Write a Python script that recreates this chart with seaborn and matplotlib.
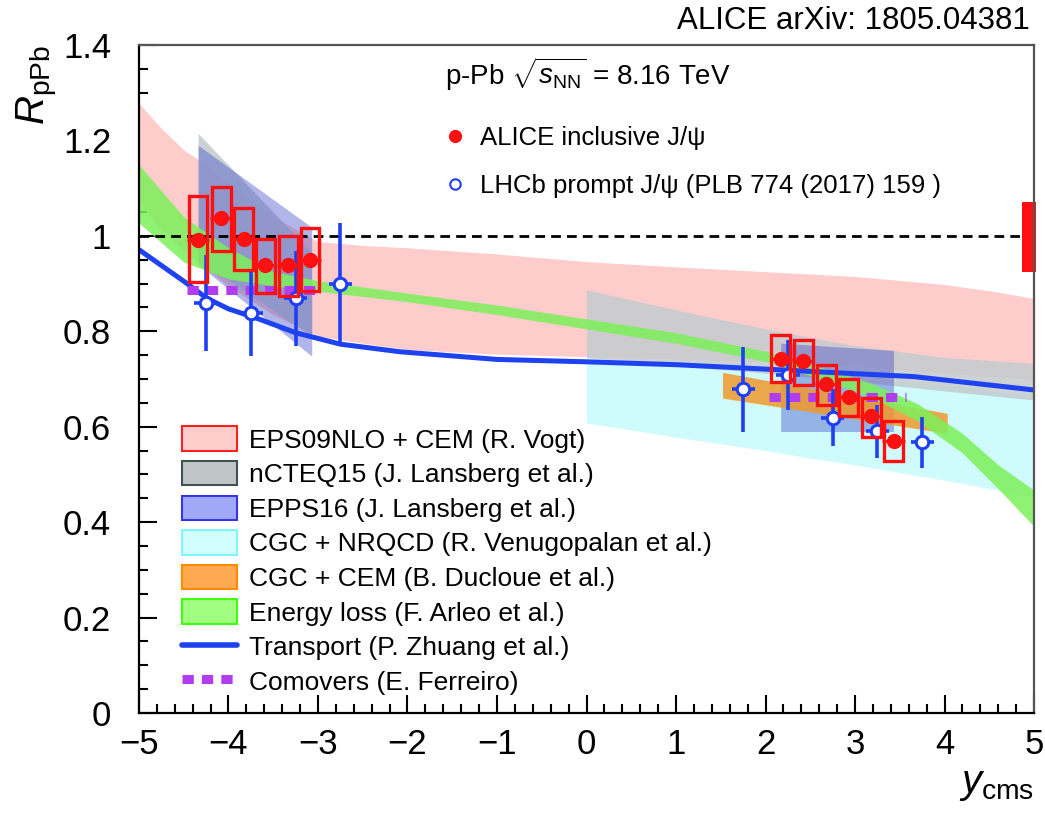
import numpy as np
import pandas as pd
import matplotlib
matplotlib.use("Agg")
import matplotlib.pyplot as plt
from matplotlib.lines import Line2D
from matplotlib.patches import Patch
from matplotlib.ticker import MultipleLocator, FuncFormatter
import seaborn as sns

# ---------------- data ----------------
# ALICE inclusive J/psi
alice_y = [-4.34, -4.08, -3.83, -3.59, -3.33, -3.09, 2.17, 2.42, 2.68, 2.93, 3.18, 3.43]
alice_R = [0.992, 1.037, 0.993, 0.939, 0.939, 0.950, 0.741, 0.737, 0.690, 0.662, 0.622, 0.570]
alice_stat = [0.012, 0.012, 0.011, 0.011, 0.011, 0.012, 0.008, 0.008, 0.008, 0.008, 0.008, 0.009]
alice_syst_lo = [0.904, 0.969, 0.929, 0.880, 0.874, 0.885, 0.693, 0.688, 0.646, 0.623, 0.579, 0.528]
alice_syst_hi = [1.084, 1.102, 1.058, 0.993, 0.999, 1.016, 0.792, 0.781, 0.729, 0.701, 0.660, 0.611]
alice_bin_half = 0.125
global_unc_lo, global_unc_hi = 0.925, 1.070

# LHCb prompt J/psi
lhcb_y = [-4.25, -3.75, -3.25, -2.75, 1.75, 2.25, 2.75, 3.25, 3.75]
lhcb_R = [0.859, 0.838, 0.869, 0.899, 0.678, 0.709, 0.619, 0.590, 0.567]
lhcb_err = [0.100, 0.090, 0.100, 0.128, 0.090, 0.073, 0.060, 0.056, 0.053]
lhcb_bin_half = 0.13

# EPS09NLO + CEM
eps09_x = [-5.0, -4.75, -4.5, -4.34, -4.0, -3.5, -3.0, -2.5, -2.0, -1.0, 0.0, 1.0, 2.0, 3.0, 4.0, 4.5, 5.0]
eps09_hi = [1.278, 1.225, 1.180, 1.160, 1.110, 1.040, 0.988, 0.980, 0.975, 0.962, 0.946, 0.935, 0.925, 0.915, 0.898, 0.885, 0.869]
eps09_lo = [1.068, 1.015, 0.970, 0.945, 0.895, 0.835, 0.790, 0.775, 0.762, 0.752, 0.747, 0.742, 0.737, 0.727, 0.712, 0.705, 0.700]

# nCTEQ15
ncteq_b_x = [-4.34, -3.07]
ncteq_b_hi = [1.215, 0.965]
ncteq_b_lo = [0.950, 0.790]
ncteq_f_x = [0.0, 1.0, 2.0, 3.0, 4.0, 5.0]
ncteq_f_hi = [0.887, 0.845, 0.805, 0.770, 0.745, 0.733]
ncteq_f_lo = [0.745, 0.728, 0.712, 0.695, 0.675, 0.656]

# EPPS16
epps_b_x = [-4.34, -3.07]
epps_b_hi = [1.190, 1.018]
epps_b_lo = [0.940, 0.748]
epps_f_x = [2.17, 3.43]
epps_f_hi = [0.775, 0.760]
epps_f_lo = [0.590, 0.590]

# CGC + NRQCD
cgcnr_x = [0.0, 1.0, 2.0, 2.5, 3.0, 4.0, 4.4, 5.0]
cgcnr_hi = [0.745, 0.730, 0.716, 0.708, 0.700, 0.688, 0.680, 0.660]
cgcnr_lo = [0.608, 0.578, 0.550, 0.534, 0.520, 0.488, 0.474, 0.453]

# CGC + CEM
cgccem_x = [1.52, 4.03]
cgccem_hi = [0.714, 0.628]
cgccem_lo = [0.660, 0.586]

# Energy loss
eloss_x = [-5.0, -4.5, -4.0, -3.5, -3.0, -2.0, -1.0, 0.0, 1.0, 2.0, 2.7, 3.2, 3.7, 4.2, 4.6, 5.0]
eloss_hi = [1.149, 1.040, 0.975, 0.925, 0.906, 0.880, 0.855, 0.826, 0.797, 0.758, 0.720, 0.690, 0.648, 0.586, 0.520, 0.467]
eloss_lo = [1.027, 0.945, 0.910, 0.895, 0.884, 0.862, 0.835, 0.805, 0.775, 0.737, 0.695, 0.660, 0.612, 0.545, 0.470, 0.391]

# Transport
trans_x = [-5.0, -4.5, -4.24, -4.0, -3.65, -3.25, -2.75, -2.08, -1.0, 0.0, 1.0, 1.76, 2.7, 3.66, 5.0]
trans_R = [0.971, 0.905, 0.869, 0.847, 0.825, 0.797, 0.773, 0.757, 0.741, 0.736, 0.730, 0.723, 0.714, 0.705, 0.677]

# Comovers
com_b_x = [-4.46, -2.96]
com_b_R = [0.887, 0.887]
com_f_x = [2.04, 3.57]
com_f_R = [0.662, 0.662]

model_labels = ["EPS09NLO + CEM (R. Vogt)", "nCTEQ15 (J. Lansberg et al.)",
                "EPPS16 (J. Lansberg et al.)", "CGC + NRQCD (R. Venugopalan et al.)",
                "CGC + CEM (B. Ducloue et al.)", "Energy loss (F. Arleo et al.)",
                "Transport (P. Zhuang et al.)", "Comovers (E. Ferreiro)"]
data_labels = ["ALICE inclusive J/\u03c8", "LHCb prompt J/\u03c8 (PLB 774 (2017) 159 )"]

# ---------------- style ----------------
sns.set_theme(style="ticks")
plt.rcParams["font.family"] = ["Liberation Sans", "DejaVu Sans"]
plt.rcParams["mathtext.fontset"] = "custom"
plt.rcParams["mathtext.rm"] = "Liberation Sans"
plt.rcParams["mathtext.it"] = "Liberation Sans:italic"
plt.rcParams["mathtext.bf"] = "Liberation Sans:bold"
plt.rcParams["text.color"] = "black"
plt.rcParams["axes.labelcolor"] = "black"
plt.rcParams["xtick.color"] = "black"
plt.rcParams["ytick.color"] = "black"

fig = plt.figure(figsize=(10.45, 8.14), dpi=100)
ax = fig.add_axes([0.1330, 0.1241, 0.8565, 0.8206])

c_pink = "#ffcccc"
c_grey = "#c4cbcf"
c_epps = "#3c48c8"
c_cyan = "#cdfbfd"
c_orange = "#f0982c"
c_green = "#7cf05a"
c_trans = "#1e42f0"
c_com = "#b23cf0"
c_lhcb = "#1f3ff5"

ax.fill_between(eps09_x, eps09_lo, eps09_hi, color=c_pink, lw=0, zorder=1)
ax.fill_between(cgcnr_x, cgcnr_lo, cgcnr_hi, color=c_cyan, lw=0, alpha=0.95, zorder=2)
ax.fill_between(ncteq_b_x, ncteq_b_lo, ncteq_b_hi, color=c_grey, lw=0, alpha=0.88, zorder=3)
ax.fill_between(ncteq_f_x, ncteq_f_lo, ncteq_f_hi, color=c_grey, lw=0, alpha=0.85, zorder=3)
ax.fill_between(epps_b_x, epps_b_lo, epps_b_hi, color=c_epps, lw=0, alpha=0.40, zorder=4)
ax.fill_between(epps_f_x, epps_f_lo, epps_f_hi, color=c_epps, lw=0, alpha=0.40, zorder=4)
ax.fill_between(cgccem_x, cgccem_lo, cgccem_hi, color=c_orange, lw=0, alpha=0.85, zorder=5)
ax.fill_between(eloss_x, eloss_lo, eloss_hi, color=c_green, lw=0, alpha=0.85, zorder=6)

sns.lineplot(x=trans_x, y=trans_R, ax=ax, color=c_trans, lw=3.6, sort=False,
             estimator=None, zorder=7)
for cx, cy in [(com_b_x, com_b_R), (com_f_x, com_f_R)]:
    sns.lineplot(x=cx, y=cy, ax=ax, color=c_com, lw=6.5, sort=False, estimator=None,
                 dashes=False, zorder=8).lines[-1].set_dashes((1.25, 0.9))

ax.axhline(1.0, color="black", lw=2.0, dashes=(3.5, 2.2), zorder=8.5)

# LHCb points
ax.errorbar(lhcb_y, lhcb_R, xerr=lhcb_bin_half, yerr=lhcb_err, fmt="o", ms=9,
            mfc="white", mec=c_lhcb, mew=2.2, ecolor=c_lhcb, elinewidth=2.6,
            capsize=0, zorder=9)

# ALICE systematic boxes
syst_h = np.array(alice_syst_hi) - np.array(alice_syst_lo)
ax.bar(alice_y, syst_h, bottom=alice_syst_lo, width=0.21, fill=False,
       edgecolor="#ff1010", linewidth=2.4, zorder=10)
ax.errorbar(alice_y, alice_R, xerr=alice_bin_half, yerr=alice_stat, fmt="o", ms=10,
            color="#ff1010", elinewidth=2.0, capsize=0, zorder=11)
# global uncertainty
ax.bar([4.945], [global_unc_hi - global_unc_lo], bottom=global_unc_lo, width=0.15,
       color="#ff1010", lw=0, clip_on=False, zorder=12)

ax.set_xlim(-5, 5)
ax.set_ylim(0, 1.4)
ax.xaxis.set_major_locator(MultipleLocator(1))
ax.xaxis.set_minor_locator(MultipleLocator(0.2))
ax.yaxis.set_major_locator(MultipleLocator(0.2))
ax.yaxis.set_minor_locator(MultipleLocator(0.05))
fmt = FuncFormatter(lambda v, p: f"{v:g}".replace("-", "\u2212"))
ax.xaxis.set_major_formatter(fmt)
ax.yaxis.set_major_formatter(fmt)
ax.tick_params(which="both", direction="in", top=False, right=False, width=1.5,
               colors="black", labelsize=25)
ax.tick_params(which="major", length=13)
ax.tick_params(which="minor", length=6.5)
ax.tick_params(axis="y", which="major", pad=20)
ax.tick_params(axis="x", which="major", pad=11)
for s in ax.spines.values():
    s.set_linewidth(1.6)
    s.set_color("black")
    s.set_zorder(20)
ax.spines["top"].set_color("#555555")
ax.spines["right"].set_color("#555555")

ax.set_xlabel(r"$y_{\rm cms}$", loc="right", fontsize=29, labelpad=3, color="black")
ax.set_ylabel(r"$R_{\rm pPb}$", loc="top", fontsize=29, labelpad=3, color="black")

# model legend
model_handles = [
    Patch(facecolor="#ffcccc", edgecolor="#ff2020", lw=1.5),
    Patch(facecolor="#bfc5c5", edgecolor="#405252", lw=1.5),
    Patch(facecolor="#a0a8f8", edgecolor="#3535f0", lw=1.5),
    Patch(facecolor="#d2feff", edgecolor="#80f4ff", lw=1.5),
    Patch(facecolor="#ffaa50", edgecolor="#ff8a00", lw=1.5),
    Patch(facecolor="#a0ff80", edgecolor="#40ff10", lw=1.5),
    Line2D([], [], color=c_trans, lw=4),
    Line2D([], [], color=c_com, lw=6.5, dashes=(1.25, 0.9)),
]
leg1 = ax.legend(model_handles, model_labels, loc="upper left",
                 bbox_to_anchor=(0.048, 0.429), frameon=False, fontsize=19,
                 handlelength=2.1, handleheight=1.05, handletextpad=0.45,
                 labelspacing=0.316, borderpad=0, borderaxespad=0,
                 labelcolor="black")
leg1.set_zorder(30)
ax.add_artist(leg1)

data_handles = [
    Line2D([], [], marker="o", ls="none", color="#ff1010", ms=8.5),
    Line2D([], [], marker="o", ls="none", mfc="white", mec=c_lhcb, mew=1.5, ms=7.5),
]
leg2 = ax.legend(data_handles, data_labels, loc="upper left",
                 bbox_to_anchor=(0.339, 0.8785), frameon=False, fontsize=18.5,
                 handlelength=1.0, handletextpad=0.47, labelspacing=0.913,
                 borderpad=0, borderaxespad=0, labelcolor="black")
leg2.set_zorder(30)

fig.text(0.426, 0.908, r"p-Pb $\sqrt{s_{\rm NN}}$ = 8.16 TeV", fontsize=20,
         ha="left", va="center", color="black")
fig.text(0.9856, 0.974, "ALICE arXiv: 1805.04381", fontsize=22.5,
         ha="right", va="center", color="black")

fig.savefig("out.png", dpi=100)
